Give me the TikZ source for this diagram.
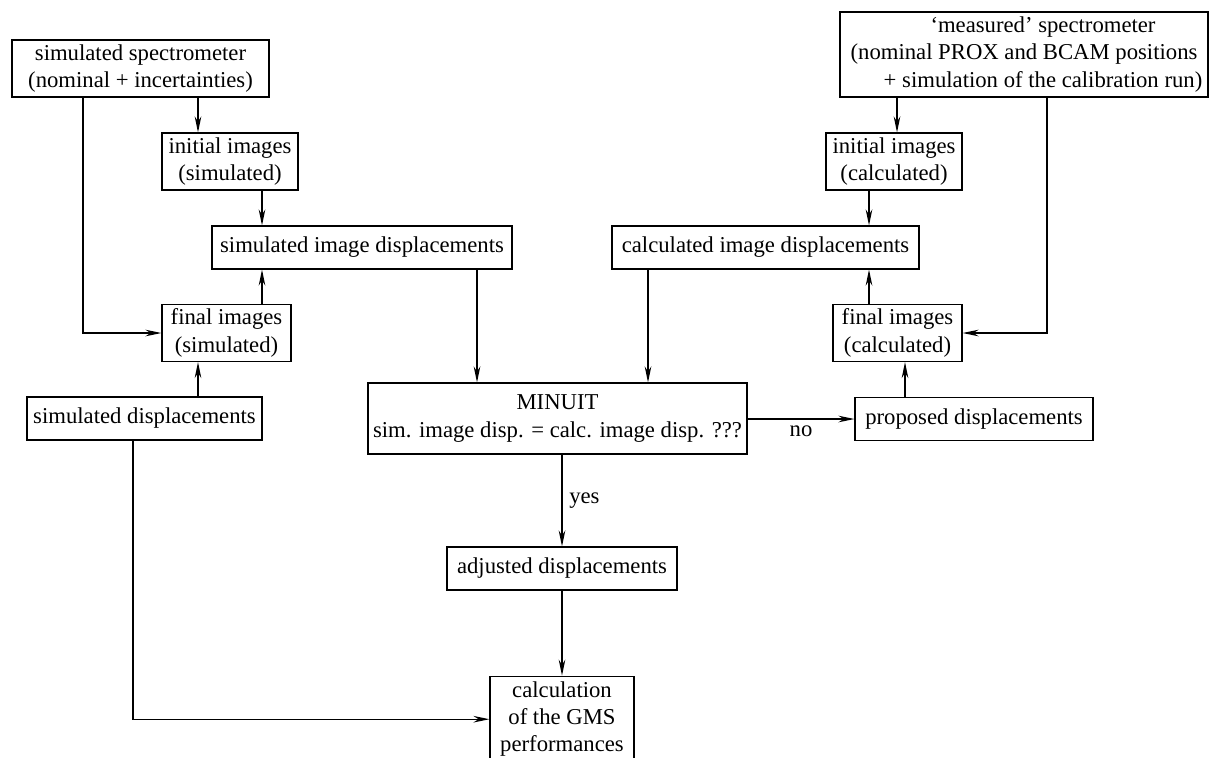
\documentclass[tikz,border=0pt]{standalone}
\usepackage{fontspec}
\setmainfont{Liberation Serif}
\usetikzlibrary{positioning, arrows.meta}

\begin{document}
\begin{tikzpicture}[
    x=0.5pt, y=-0.5pt,
    font=\fontsize{11.35}{13.6}\selectfont,
    line width=0.6pt,
    >={Stealth[length=8pt, width=3.3pt, inset=2.6pt]},
    box/.style={draw, align=center, inner sep=1pt, minimum width=#1},
    tall/.style={minimum height=28.5pt},
    flat/.style={minimum height=21.5pt}
  ]
  \useasboundingbox (0,0) rectangle (1209,757);

  % simulated side
  \node (simspec) [box=128.5pt, tall] at (140.5,68.5) {simulated spectrometer\\(nominal + incertainties)};
  \node (initsim) [box=68pt, tall] at (230,161.5) {initial images\\(simulated)};
  \node (simimg) [box=150pt, flat] at (362,247.5) {simulated image displacements};
  \node (finsim) [box=64.5pt, tall] at (226.5,333) {final images\\(simulated)};
  \node (simdisp) [box=117.5pt, flat] at (144.5,418.5) {simulated displacements};

  % fit
  \node (minuit) [box=189.5pt, minimum height=35.5pt] at (557.5,418.5) {MINUIT\\sim. image disp. = calc. image disp. ???};
  \node (adjust) [box=115pt, flat] at (562,568.5) {adjusted displacements};
  \node (gms) [box=72pt, minimum height=43pt, below=42.5pt of adjust] {calculation\\of the GMS\\performances};

  % measured side
  \node (measspec) [box=184pt, minimum height=42.5pt] at (1024,54.5) {\hspace*{19pt}`measured' spectrometer\\(nominal PROX and BCAM positions\\\hspace*{19pt}+ simulation of the calibration run)};
  \node (initcalc) [box=68pt, tall] at (894,161.5) {initial images\\(calculated)};
  \node (calcimg) [box=153.5pt, flat] at (765.5,247.5) {calculated image displacements};
  \node (fincalc) [box=64.5pt, tall] at (897.5,333) {final images\\(calculated)};
  \node (proposed) [box=119pt, flat] at (974,419) {proposed displacements};

  \draw[->] (simspec.south -| 198,0) -- (initsim.north -| 198,0);
  \draw[->] (initsim.south -| 262,0) -- (simimg.north -| 262,0);
  \draw[->] (finsim.north -| 262,0) -- (simimg.south -| 262,0);
  \draw[->] (simdisp.north -| 198,0) -- (finsim.south -| 198,0);
  \draw[->] (simspec.south -| 83,0) |- (finsim.west);
  \draw[->] (simimg.south -| 477,0) -- (minuit.north -| 477,0);

  \draw[->] (measspec.south -| 897,0) -- (initcalc.north -| 897,0);
  \draw[->] (initcalc.south -| 869,0) -- (calcimg.north -| 869,0);
  \draw[->] (fincalc.north -| 869,0) -- (calcimg.south -| 869,0);
  \draw[->] (proposed.north -| 905,0) -- (fincalc.south -| 905,0);
  \draw[->] (measspec.south -| 1047,0) |- (fincalc.east);
  \draw[->] (calcimg.south -| 648,0) -- (minuit.north -| 648,0);

  \draw[->] (minuit.east |- proposed.west) -- node[below] {no} (proposed.west);
  \draw[->] (minuit.south -| adjust.north) -- node[right] {yes} (adjust.north);
  \draw[->] (adjust.south) -- (gms.north);
  \draw[->] (simdisp.south -| 133,0) |- (gms.west);
\end{tikzpicture}
\end{document}
